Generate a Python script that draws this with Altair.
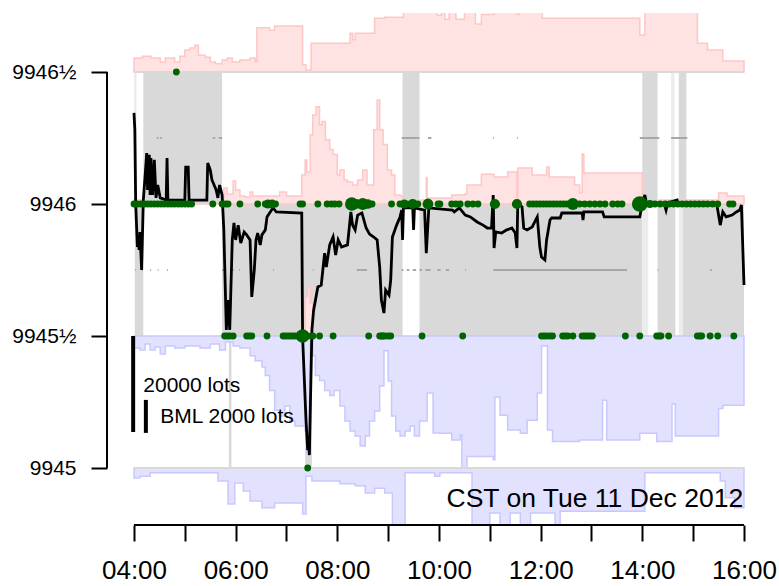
import altair as alt
import pandas as pd

# ---------------- data ----------------
# black line: micro price (time, price)
LINE = [("4:00",9946.345),("4:01",9946.280),("4:02",9946.000),("4:04",9945.837),("4:05",9945.875),
("4:06",9945.826),("4:07",9945.894),("4:09",9945.750),("4:11",9946.015),("4:13",9946.102),("4:15",9946.193),
("4:16",9946.053),("4:18",9946.186),("4:19",9946.034),("4:20",9946.174),("4:22",9946.034),("4:24",9946.167),
("4:26",9946.023),("4:28",9946.072),("4:31",9946.023),("4:38",9946.015),("4:39",9946.174),("4:40",9946.015),
("5:00",9946.015),("5:01",9946.140),("5:04",9946.140),("5:05",9946.015),("5:26",9946.015),("5:27",9946.155),
("5:30",9946.129),("5:32",9946.091),("5:37",9946.053),("5:39",9946.023),("5:41",9946.072),("5:44",9946.034),
("5:46",9945.902),("5:49",9945.523),("5:51",9945.636),("5:53",9945.523),("5:56",9945.864),("5:58",9945.928),
("6:00",9945.864),("6:03",9945.920),("6:06",9945.852),("6:10",9945.894),("6:13",9945.883),("6:17",9945.864),
("6:19",9945.648),("6:22",9945.750),("6:24",9945.864),("6:26",9945.890),("6:29",9945.845),("6:31",9945.883),
("6:35",9945.902),("6:37",9945.951),("6:40",9945.966),("6:44",9945.985),("6:48",9945.970),("7:18",9945.966),
("7:19",9945.496),("7:23",9945.182),("7:25",9945.068),("7:26",9945.106),("7:27",9945.049),("7:30",9945.523),
("7:32",9945.598),("7:37",9945.686),("7:41",9945.693),("7:45",9945.814),("7:47",9945.761),("7:51",9945.845),
("7:55",9945.875),("7:58",9945.807),("8:01",9945.864),("8:05",9945.837),("8:12",9945.845),("8:16",9945.970),
("8:18",9945.920),("8:21",9945.902),("8:24",9945.958),("8:29",9945.966),("8:34",9945.909),("8:38",9945.886),
("8:43",9945.875),("8:47",9945.864),("8:50",9945.761),("8:52",9945.636),("8:55",9945.587),("8:57",9945.674),
("9:01",9945.655),("9:03",9945.712),("9:05",9945.875),("9:10",9945.920),("9:14",9945.951),("9:16",9945.977),
("9:17",9945.864),("9:18",9945.985),("9:29",9945.985),("9:30",9945.902),("9:31",9945.985),("9:43",9945.977),
("9:45",9945.814),("9:48",9945.985),("10:16",9945.977),("10:18",9945.970),("10:24",9945.985),("10:31",9945.958),
("10:37",9945.951),("10:45",9945.932),("10:52",9945.920),("10:57",9945.909),("11:02",9945.909),("11:04",9946.034),
("11:05",9945.833),("11:07",9945.894),("11:14",9945.890),("11:20",9945.902),("11:26",9945.909),("11:30",9945.890),
("11:32",9945.833),("11:33",9946.004),("11:38",9945.989),("11:40",9945.909),("11:44",9945.902),("11:50",9945.913),
("11:56",9945.951),("11:59",9945.837),("12:01",9945.799),("12:05",9945.788),("12:07",9945.864),("12:11",9945.939),
("12:13",9945.947),("12:23",9945.947),("12:25",9945.966),("12:49",9945.966),("12:50",9945.939),("12:51",9945.970),
("13:13",9945.970),("13:15",9945.951),("13:57",9945.951),("14:00",9946.004),("14:03",9946.034),("14:05",9946.000),
("14:26",9946.000),("14:28",9945.977),("14:30",9946.004),("14:41",9946.015),("14:42",9946.000),("15:28",9945.996),
("15:30",9945.958),("15:32",9945.920),("15:35",9945.970),("15:39",9945.951),("15:46",9945.958),("15:51",9945.970),
("15:55",9945.977),("15:57",9945.996),("16:00",9945.693)]

# depth at 9946½ (lots, deep scale)
ASK2 = [("4:00",2900),("4:10",3300),("4:20",2900),("4:31",2100),("4:37",2900),("4:48",2100),("4:54",3300),
("5:00",4600),("5:06",5000),("5:12",5600),("5:16",3500),("5:24",3100),("5:30",2100),("5:36",1700),("5:44",2500),
("5:50",2900),("5:56",2100),("6:05",2500),("6:17",2900),("6:23",2100),("6:25",9200),("6:40",8700),("6:46",9600),
("7:19",1500),("7:23",400),("7:29",6000),("8:15",8100),("8:18",6700),("8:21",8100),("8:44",11200),("8:56",11400),
("9:18",13500),("9:58",11800),("10:03",13500),("10:07",11000),("10:12",13500),("10:20",11000),("10:30",13500),
("10:43",10000),("10:50",12000),("11:05",13500),("11:32",12000),("11:35",13500),("12:02",11200),("13:57",7700),
("14:03",13500),("15:05",6000),("15:17",4600),("15:35",2300),("16:00",2300)]

# best ask depth at 9946 (lots, BML scale)
ASK1 = [("4:00",240),("4:11",0),("5:44",0),("5:46",970),("5:50",600),("5:57",1400),("6:00",850),("6:05",490),
("6:11",430),("6:17",730),("6:20",490),("6:40",490),("6:52",730),("7:00",490),("7:18",1760),("7:22",2670),
("7:24",1940),("7:28",4200),("7:31",5400),("7:35",5900),("7:39",4800),("7:42",5000),("7:46",3900),("7:51",3300),
("7:55",3000),("8:00",1760),("8:03",2060),("8:08",1450),("8:12",1330),("8:18",1150),("8:24",1450),("8:30",2060),
("8:35",1150),("8:43",4500),("8:47",6300),("8:50",4500),("8:54",3600),("8:59",2060),("9:04",1760),("9:08",550),
("9:14",490),("9:17",0),("9:37",240),("9:45",1600),("9:46",360),("10:15",550),("10:30",600),("10:33",1150),
("10:50",1800),("11:05",1630),("11:21",1940),("11:32",240),("11:33",2180),("11:50",1760),("12:07",2240),
("12:10",1630),("12:40",1150),("12:46",670),("12:49",3030),("12:51",1880),("14:00",0),("14:20",240),
("15:30",670),("15:40",480),("16:00",480)]

# ask at 9945½ during the 07:20 drop (lots, BML scale)
ASK0 = [("7:19",0),("7:22",2400),("7:25",3000),("7:28",2000),("7:31",0)]

# best bid depth at 9945½ (lots, BML scale)
BID1 = [("4:00",730),("4:07",850),("4:13",480),("4:19",850),("4:25",670),("4:31",1090),("4:37",610),
("4:48",730),("5:00",610),("5:18",730),("5:30",480),("5:41",850),("5:48",360),("5:57",600),("6:05",730),
("6:17",1200),("6:23",1500),("6:31",1880),("6:35",2400),("6:40",3300),("6:46",4500),("6:52",4850),("6:58",4240),
("7:04",5150),("7:10",5450),("7:22",5760),("7:24",7100),("7:28",0),("7:31",1200),("7:34",2400),("7:39",2700),
("7:45",3300),("7:51",3600),("7:56",3300),("8:03",4240),("8:09",5150),("8:15",5760),("8:21",6060),("8:27",6670),
("8:33",6060),("8:38",5150),("8:44",4550),("8:50",3030),("8:55",900),("9:00",2730),("9:04",4850),("9:09",5760),
("9:14",6060),("9:20",5760),("9:26",5450),("9:31",6060),("9:37",5150),("9:46",3450),("9:53",5880),("10:01",5900),
("10:15",6300),("10:25",6000),("10:27",8000),("10:33",7300),("11:04",7500),("11:06",3700),("11:12",4800),
("11:21",5700),("11:36",5900),("11:44",5100),("11:56",3450),("12:01",600),("12:08",5700),("12:14",6400),
("12:46",6300),("13:13",3900),("13:18",6300),("13:57",5900),("14:17",6400),("14:35",4100),("14:39",6060),
("15:30",4400),("15:35",4200),("16:00",4200)]

# depth at 9945 (lots, deep scale)
BID2 = [("4:00",2100),("4:07",1700),("4:19",1000),("5:39",2700),("5:51",7500),("5:59",3100),("6:09",4800),
("6:17",6900),("6:31",8300),("6:46",7300),("7:19",9600),("7:23",1700),("7:30",2700),("8:03",3300),("8:21",3700),
("8:33",5200),("8:44",4200),("8:56",5200),("9:05",12000),("9:20",1000),("9:55",1700),("10:01",1000),
("10:39",12000),("11:00",9400),("11:12",12000),("11:24",9400),("11:36",12000),("11:48",9400),("12:17",12000),
("12:23",9000),("14:03",1000),("15:32",2700),("15:38",6200),("15:49",8300),("16:00",8300)]

# shaded spread intervals: start, end, low, high, shade
SPREAD = [("4:00","4:03",9946.0,9946.5,"light"),("4:11","5:44",9946.0,9946.5,"dark"),
("9:17","9:37",9946.0,9946.5,"dark"),("14:00","14:18",9946.0,9946.5,"dark"),
("14:34","14:38",9946.0,9946.5,"light"),("14:43","14:52",9946.0,9946.5,"dark"),
("4:01","4:11",9945.5,9946.0,"dark"),("5:44","9:17",9945.5,9946.0,"dark"),
("9:37","14:00",9945.5,9946.0,"dark"),("14:00","14:07",9945.5,9946.0,"light"),
("14:18","14:39",9945.5,9946.0,"dark"),("14:43","14:48",9945.5,9946.0,"light"),
("14:48","16:00",9945.5,9946.0,"dark"),("5:52","5:55",9945.0,9945.5,"dark"),
("7:22","7:30",9945.0,9945.5,"dark")]

# small grey marks at the quarter levels: start, end, price
MARKS = [("4:27","4:29",9946.25),("4:31","4:33",9946.25),("5:33","5:36",9946.25),("5:40","5:44",9946.25),
("9:16","9:37",9946.25),("9:47","9:51",9946.25),("11:04","11:05",9946.25),("11:32","11:33",9946.25),
("13:57","14:20",9946.25),("14:34","14:53",9946.25),
("4:01","4:02",9945.75),("4:09","4:10",9945.75),("4:19","4:20",9945.75),("4:28","4:29",9945.75),
("4:39","4:40",9945.75),("5:44","5:47",9945.75),("5:56","5:58",9945.75),("6:04","6:05",9945.75),
("6:44","6:45",9945.75),("7:31","7:32",9945.75),("8:23","8:35",9945.75),("9:16","9:18",9945.75),
("9:22","9:25",9945.75),("9:29","9:33",9945.75),("9:37","9:40",9945.75),("9:44","9:50",9945.75),
("9:58","10:02",9945.75),("10:08","10:12",9945.75),("10:31","10:32",9945.75),("11:04","13:42",9945.75),
("14:18","14:19",9945.75),("15:20","15:22",9945.75)]

# trades: time, price, lots
TR_9946 = ["4:00","4:04","4:08","4:12","4:16","4:20","4:24","4:28","4:32","4:36","4:40","4:44","4:48","4:52",
"4:56","5:00","5:04","5:08","5:33","5:44","5:48","5:51","6:05","6:26","6:35","6:47","7:16","7:19","7:37",
"7:48","7:53","7:57","8:02","8:41","9:04","9:14","9:22","9:35","9:59","10:01","10:15","10:20","10:25","10:34",
"10:40","10:46","11:47","11:51","11:55","11:59","12:03","12:07","12:11","12:15","12:19","12:23","12:27","12:31",
"12:46","12:52","12:58","13:04","13:10","13:16","13:25","13:31","13:36","14:15","14:21","14:27","14:32","14:37",
"14:42","14:47","14:52","14:57","15:02","15:07","15:12","15:17","15:23","15:29","15:43","15:47"]
TR_99455 = ["5:47","5:50","5:53","5:57","6:13","6:16","6:19","6:37","6:56","6:59","7:02","7:05","7:08","7:11",
"7:14","7:25","7:31","7:39","7:55","8:37","8:50","8:56","9:00","9:03","9:40","10:28","12:01","12:04","12:07",
"12:11","12:14","12:26","12:29","12:32","12:38","12:49","12:52","12:55","12:58","13:01","13:40","13:57","14:17",
"14:20","14:22","14:31","15:05","15:08","15:10","15:20","15:29","15:48"]
TR_BIG = [("6:38",9946.0,30),("6:43",9946.0,30),("8:17",9946.0,70),("8:22",9946.0,40),("8:30",9946.0,55),
("8:36",9946.0,35),("9:19",9946.0,30),("9:29",9946.0,40),("9:47",9946.0,45),("11:06",9946.0,40),
("11:32",9946.0,40),("12:38",9946.0,55),("13:57",9946.0,95),("14:09",9946.0,25),
("7:17",9945.5,30),("7:19",9945.5,70),("7:22",9945.5,30),("8:53",9945.5,22),
("4:50",9946.5,18),("7:25",9945.0,18)]
SMALL_LOTS = 18

# annotation text: label, time, price, align, size
NOTES = [("CST on Tue 11 Dec 2012", "15:59", 9944.852, "right", 26.5),
         ("20000 lots", "4:11", 9945.288, "left", 21),
         ("BML 2000 lots", "4:31", 9945.170, "left", 21)]
# depth scale bars: time, top price, lots, scale kind
BARS = [("3:59", 9945.5, 20000, "deep"), ("4:14", 9945.258, 2000, "bml")]
DEEP = 0.3636 / 20000   # price units per lot for deep levels
BML = 0.125 / 2000      # price units per lot for best levels

TICK_HOURS = list(range(4, 17))
PRICE_TICKS = [9945.0, 9945.5, 9946.0, 9946.5]

# ---------------- build tables ----------------
def hrs(s):
    h, m = s.split(":")
    return int(h) + int(m) / 60.0

def depth(pairs, base, k, sign):
    d = pd.DataFrame(pairs, columns=["t", "q"])
    d["h"] = d["t"].map(hrs)
    d["base"] = base
    d["edge"] = base + sign * d["q"] * k
    return d

line_df = pd.DataFrame(LINE, columns=["t", "p"]); line_df["h"] = line_df["t"].map(hrs)
ask2 = depth(ASK2, 9946.5, DEEP, 1)
ask1 = depth(ASK1, 9946.0, BML, 1)
ask0 = depth(ASK0, 9945.5, BML, 1)
bid1 = depth(BID1, 9945.5, BML, -1)
bid2 = depth(BID2, 9945.0, DEEP, -1)
spread = pd.DataFrame(SPREAD, columns=["t0", "t1", "lo", "hi", "shade"])
spread["h0"] = spread["t0"].map(hrs); spread["h1"] = spread["t1"].map(hrs)
marks = pd.DataFrame(MARKS, columns=["t0", "t1", "p"])
marks["h0"] = marks["t0"].map(hrs); marks["h1"] = marks["t1"].map(hrs)
trades = ([(t, 9946.0, SMALL_LOTS) for t in TR_9946] + [(t, 9945.5, SMALL_LOTS) for t in TR_99455] + TR_BIG)
tr = pd.DataFrame(trades, columns=["t", "p", "q"]); tr["h"] = tr["t"].map(hrs)
notes = pd.DataFrame(NOTES, columns=["txt", "t", "p", "align", "size"]); notes["h"] = notes["t"].map(hrs)
bars = pd.DataFrame(BARS, columns=["t", "top", "q", "kind"]); bars["h"] = bars["t"].map(hrs)
bars["bot"] = [r.top - r.q * (DEEP if r.kind == "deep" else BML) for r in bars.itertuples()]
levels = pd.DataFrame({"p": [9946.5, 9945.0], "h0": 4.0, "h1": 16.0})
xline = pd.DataFrame({"h0": [TICK_HOURS[0]], "h1": [TICK_HOURS[-1]]})
yline = pd.DataFrame({"p0": [PRICE_TICKS[0]], "p1": [PRICE_TICKS[-1]]})

# ---------------- chart ----------------
W, H = 664, 512
FONT = "Liberation Sans"
XS = alt.Scale(domain=[3.4688, 16.5313], nice=False, zero=False)
YS = alt.Scale(domain=[9944.7841, 9946.7235], nice=False, zero=False)
XAX = alt.Axis(values=TICK_HOURS, title=None, grid=False, domain=False, tickSize=16, tickWidth=2,
               tickColor="black", labelFont=FONT, labelFontSize=26, labelColor="black", labelPadding=16,
               labelOverlap=False, labelFlush=False,
               labelExpr="datum.value % 2 == 0 ? (datum.value < 10 ? '0' : '') + datum.value + ':00' : ''")
YAX = alt.Axis(values=PRICE_TICKS, title=None, grid=False, domain=False, tickSize=16, tickWidth=2,
               tickColor="black", labelFont=FONT, labelFontSize=21, labelColor="black", labelPadding=15,
               labelExpr="datum.value % 1 == 0 ? '' + datum.value : floor(datum.value) + '½'")

def X(f):
    return alt.X(f, type="quantitative", scale=XS, axis=XAX)

def Y(f):
    return alt.Y(f, type="quantitative", scale=YS, axis=YAX)

bands = alt.Chart(spread).mark_rect(clip=True).encode(
    x=X("h0"), x2="h1", y=Y("lo"), y2="hi",
    color=alt.Color("shade:N", scale=alt.Scale(domain=["dark", "light"], range=["#d9d9d9", "#ececec"]), legend=None))

def area(d, fill, stroke):
    return alt.Chart(d).mark_area(interpolate="step-after", clip=True, fill=fill, stroke=stroke,
                                  strokeWidth=1.5, opacity=1).encode(x=X("h"), y=Y("edge"), y2="base")

PINK, PINK_L = "#ffe2e2", "#ffc6c6"
BLUE, BLUE_L = "#e2e2ff", "#c8c8ff"
layers = [bands,
          area(ask2, PINK, PINK_L), area(ask1, PINK, PINK_L), area(ask0, PINK, PINK_L),
          area(bid1, BLUE, BLUE_L), area(bid2, BLUE, BLUE_L)]

layers.append(alt.Chart(levels).mark_rule(color="#d9d9d9", strokeWidth=2).encode(x=X("h0"), x2="h1", y=Y("p")))
layers.append(alt.Chart(marks).mark_rule(color="#a8a8a8", strokeWidth=2).encode(x=X("h0"), x2="h1", y=Y("p")))
layers.append(alt.Chart(line_df).mark_line(interpolate="linear", color="black", strokeWidth=2.8, clip=True)
              .encode(x=X("h"), y=Y("p")))
layers.append(alt.Chart(tr).mark_circle(color="#006400", opacity=1).encode(
    x=X("h"), y=Y("p"), size=alt.Size("q:Q", scale=alt.Scale(domain=[0, 100], range=[0, 260]), legend=None)))
layers.append(alt.Chart(bars).mark_rule(color="black", strokeWidth=4).encode(x=X("h"), y=Y("top"), y2="bot"))
for r in notes.itertuples():
    layers.append(alt.Chart(notes[notes.txt == r.txt]).mark_text(
        align=r.align, baseline="alphabetic", font=FONT, fontSize=float(r.size), color="black")
        .encode(x=X("h"), y=Y("p"), text="txt:N"))
layers.append(alt.Chart(xline).mark_rule(color="black", strokeWidth=2).encode(
    x=X("h0"), x2="h1", y=alt.value(H)))
layers.append(alt.Chart(yline).mark_rule(color="black", strokeWidth=2).encode(
    x=alt.value(0), y=Y("p0"), y2="p1"))

chart = alt.layer(*layers).properties(
    width=W, height=H,
    padding={"left": 107, "top": 13, "right": 8, "bottom": 61},
    autosize=alt.AutoSizeParams(type="none"),
    background="white",
).configure_view(stroke=None)

chart.save("out.html", embed_options={"renderer": "svg", "actions": False})
